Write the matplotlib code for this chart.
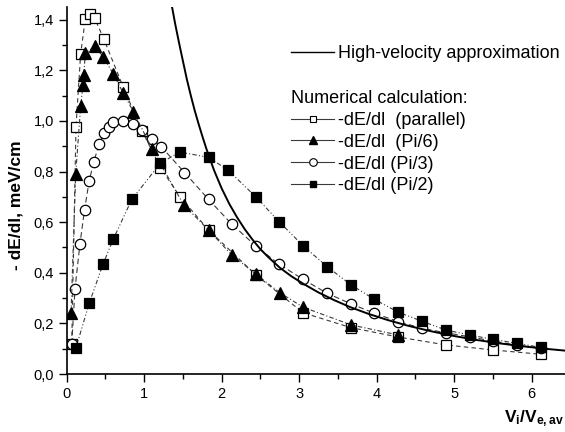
import matplotlib
matplotlib.use('Agg')
import matplotlib.pyplot as plt
from matplotlib.lines import Line2D
from matplotlib.ticker import MultipleLocator, FuncFormatter

# ---------------- data ----------------
hv_x = [1.36, 1.40, 1.45, 1.50, 1.55, 1.60, 1.65, 1.70, 1.75, 1.80, 1.90, 2.00,
        2.10, 2.20, 2.30, 2.40, 2.50, 2.60, 2.75, 2.90, 3.05, 3.25, 3.45, 3.66,
        3.90, 4.15, 4.40, 4.70, 5.00, 5.30, 5.60, 5.90, 6.20, 6.43]
hv_y = [1.449, 1.383, 1.308, 1.236, 1.165, 1.102, 1.043, 0.990, 0.940, 0.892, 0.806, 0.733,
        0.671, 0.618, 0.571, 0.530, 0.493, 0.462, 0.420, 0.386, 0.357, 0.322, 0.292, 0.264,
        0.237, 0.2125, 0.191, 0.169, 0.150, 0.134, 0.1205, 0.109, 0.099, 0.0924]

par_x = [0.065, 0.12, 0.18, 0.24, 0.30, 0.36, 0.48, 0.73, 0.97, 1.21, 1.46, 1.83,
         2.44, 3.05, 3.67, 4.28, 4.89, 5.50, 6.12]
par_y = [0.12, 0.977, 1.265, 1.402, 1.423, 1.406, 1.323, 1.133, 0.962, 0.815, 0.701,
         0.569, 0.392, 0.242, 0.183, 0.146, 0.115, 0.095, 0.078]

pi6_x = [0.056, 0.116, 0.18, 0.21, 0.22, 0.24, 0.36, 0.47, 0.60, 0.73, 0.86, 1.10,
         1.51, 1.83, 2.13, 2.44, 2.75, 3.05, 3.67, 4.28]
pi6_y = [0.24, 0.79, 1.057, 1.142, 1.182, 1.267, 1.294, 1.254, 1.186, 1.11, 1.037,
         0.89, 0.668, 0.569, 0.47, 0.395, 0.321, 0.264, 0.194, 0.154]

pi3_x = [0.065, 0.107, 0.17, 0.23, 0.29, 0.35, 0.42, 0.48, 0.54, 0.60, 0.73, 0.85,
         0.97, 1.10, 1.22, 1.52, 1.83, 2.13, 2.44, 2.74, 3.05, 3.36, 3.67, 3.97,
         4.28, 4.58, 4.89, 5.20, 5.50, 5.81, 6.12]
pi3_y = [0.119, 0.335, 0.512, 0.648, 0.763, 0.839, 0.91, 0.951, 0.976, 0.995, 1.0,
         0.987, 0.963, 0.93, 0.898, 0.796, 0.69, 0.592, 0.506, 0.434, 0.374, 0.319,
         0.277, 0.24, 0.207, 0.181, 0.163, 0.147, 0.13, 0.114, 0.101]

pi2_x = [0.12, 0.29, 0.47, 0.60, 0.84, 1.21, 1.46, 1.83, 2.08, 2.44, 2.74, 3.05,
         3.36, 3.67, 3.97, 4.28, 4.58, 4.89, 5.20, 5.50, 5.81, 6.12]
pi2_y = [0.104, 0.279, 0.435, 0.532, 0.69, 0.833, 0.877, 0.856, 0.806, 0.70, 0.602,
         0.507, 0.424, 0.352, 0.295, 0.244, 0.209, 0.174, 0.154, 0.137, 0.121, 0.105]

hv_label = 'High-velocity approximation'
num_title = 'Numerical calculation:'
labels = ['-dE/dl  (parallel)', '-dE/dl  (Pi/6)', '-dE/dl (Pi/3)', '-dE/dl (Pi/2)']
x_ticks = [0, 1, 2, 3, 4, 5, 6]
y_ticks = [0.0, 0.2, 0.4, 0.6, 0.8, 1.0, 1.2, 1.4]

# ---------------- style ----------------
plt.rcParams['font.family'] = ['Liberation Sans', 'DejaVu Sans']
plt.rcParams['mathtext.fontset'] = 'custom'
plt.rcParams['mathtext.rm'] = 'Liberation Sans'
plt.rcParams['mathtext.bf'] = 'Liberation Sans:bold'

W, H = 565, 432
fig = plt.figure(figsize=(W / 100, H / 100), dpi=100)
ax = fig.add_axes([66.7 / W, 58 / H, 1 - 66.7 / W, (374 - 7) / H])
ax.set_xlim(0, 6.43)
ax.set_ylim(0, 1.45)

lc = '#3a3a3a'
styles = [
    dict(ls=(0, (4, 3)), marker='s', mfc='white', ms=7),
    dict(ls=(0, (5, 3)), marker='o', mfc='white', ms=7.5),
    dict(ls=(0, (4, 2, 1, 2)), marker='^', mfc='black', ms=8),
    dict(ls=(0, (4, 2, 1, 2, 1, 2)), marker='s', mfc='black', ms=7),
]
series = [(par_x, par_y), (pi3_x, pi3_y), (pi6_x, pi6_y), (pi2_x, pi2_y)]
for (xs, ys), st in zip(series, styles):
    ax.plot(xs, ys, color=lc, lw=0.8, mec='black', mew=0.9, zorder=3, **st)

ax.plot(hv_x, hv_y, color='black', lw=1.4, zorder=4)

# axes look
for s in ['top', 'right']:
    ax.spines[s].set_visible(False)
for s in ['left', 'bottom']:
    ax.spines[s].set_linewidth(1.2)
ax.set_xticks(x_ticks)
ax.set_yticks(y_ticks)
ax.xaxis.set_minor_locator(MultipleLocator(0.5))
ax.yaxis.set_minor_locator(MultipleLocator(0.1))
ax.yaxis.set_major_formatter(FuncFormatter(lambda v, p: f'{v:.1f}'.replace('.', ',')))
ax.tick_params(which='major', direction='out', length=6, width=1, labelsize=10.5, pad=3)
ax.tick_params(which='minor', direction='out', length=3.5, width=1)

# legends
leg1 = ax.legend([Line2D([], [], color='black', lw=1)], [hv_label],
                 loc='upper left', bbox_to_anchor=(291 / W, 1 - 45 / H),
                 bbox_transform=fig.transFigure, frameon=False, fontsize=13,
                 handlelength=2.4, handletextpad=0.2, borderpad=0, borderaxespad=0)
ax.add_artist(leg1)
leg_handles = [
    Line2D([], [], color=lc, lw=0.8, marker='s', mfc='white', mec='black', ms=5, mew=0.8),
    Line2D([], [], color=lc, lw=0.8, marker='^', mfc='black', mec='black', ms=6),
    Line2D([], [], color=lc, lw=0.8, marker='o', mfc='white', mec='black', ms=5.5, mew=0.8),
    Line2D([], [], color=lc, lw=0.8, marker='s', mfc='black', mec='black', ms=5),
]
ax.legend(leg_handles, labels, title=num_title, alignment='left', title_fontsize=13,
          loc='upper left', bbox_to_anchor=(291 / W, 1 - 90 / H),
          bbox_transform=fig.transFigure, frameon=False, fontsize=13,
          handlelength=2.4, handletextpad=0.2, borderpad=0, borderaxespad=0,
          labelspacing=0.27)

fig.text(16 / W, 1 - 205 / H, '- dE/dl, meV/cm', rotation=90, ha='center', va='center',
         fontweight='bold', fontsize=12.5)
fig.text(564 / W, 1 - 422 / H, r'$\mathbf{V_i/V_{e,av}}$', ha='right', va='baseline',
         fontsize=12.5)

fig.savefig('out.png', dpi=100)
